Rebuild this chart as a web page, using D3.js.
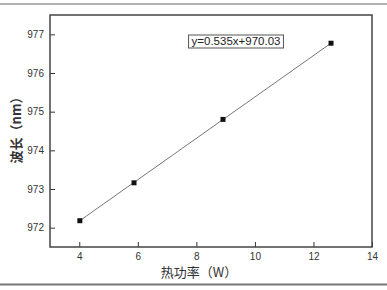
<!DOCTYPE html>
<html lang="zh">
<head>
    <meta charset="UTF-8">
    <title>波长 vs 热功率</title>
    <style>
        body { margin: 0; background: #fff; }
        svg { display: block; }
        .tick text { font-family: Arial, "Liberation Sans", sans-serif; font-size: 10px; fill: #333; }
    </style>
</head>
<body>
    <div id="chart"></div>
    <script src="https://d3js.org/d3.v7.min.js"></script>
    <script>
        const width = 387;
        const height = 290;
        const margin = { top: 15, right: 15, bottom: 43, left: 50 };

        // data
        const power = [4.02, 5.87, 8.91, 12.6];
        const wavelength = [972.18, 973.16, 974.80, 976.77];
        const slope = 0.535;
        const intercept = 970.03;
        const xTicks = [4, 6, 8, 10, 12, 14];
        const yTicks = [972, 973, 974, 975, 976, 977];

        const svg = d3.select("#chart").append("svg")
            .attr("width", width)
            .attr("height", height);

        // photo frame lines
        svg.append("line").attr("x1", 0).attr("x2", width).attr("y1", 4).attr("y2", 4)
            .attr("stroke", "#999").attr("stroke-width", 1.5);
        svg.append("line").attr("x1", 0).attr("x2", width).attr("y1", 284.5).attr("y2", 284.5)
            .attr("stroke", "#777").attr("stroke-width", 2);

        const x = d3.scaleLinear().domain([3, 14]).range([margin.left, width - margin.right]);
        const y = d3.scaleLinear().domain([971.5, 977.5]).range([height - margin.bottom, margin.top]);

        const pw = width - margin.right - margin.left;
        const ph = height - margin.bottom - margin.top;

        // minor ticks
        const xMinor = d3.range(3, 14, 1).filter(v => v % 2 === 1);
        const yMinor = d3.range(971.5, 977.6, 1);

        const gx = svg.append("g").attr("transform", `translate(0,${height - margin.bottom})`);
        gx.call(d3.axisBottom(x).tickValues(xMinor).tickSize(-3).tickFormat(""));
        gx.call(d3.axisBottom(x).tickValues(xTicks).tickSize(-5).tickPadding(6).tickFormat(d3.format("d")));
        gx.selectAll(".domain").remove();

        const gy = svg.append("g").attr("transform", `translate(${margin.left},0)`);
        gy.call(d3.axisLeft(y).tickValues(yMinor).tickSize(-3).tickFormat(""));
        gy.call(d3.axisLeft(y).tickValues(yTicks).tickSize(-5).tickPadding(6).tickFormat(d3.format("d")));
        gy.selectAll(".domain").remove();

        svg.selectAll(".tick line").attr("stroke", "#333");

        // plot frame
        svg.append("rect")
            .attr("x", margin.left).attr("y", margin.top)
            .attr("width", pw).attr("height", ph)
            .attr("fill", "none").attr("stroke", "#444").attr("stroke-width", 1.5);

        // fit line
        const xs = d3.extent(power);
        svg.append("line")
            .attr("x1", x(xs[0])).attr("y1", y(slope * xs[0] + intercept))
            .attr("x2", x(xs[1])).attr("y2", y(slope * xs[1] + intercept))
            .attr("stroke", "#777").attr("stroke-width", 1);

        // markers
        svg.selectAll(".pt")
            .data(power.map((p, i) => [p, wavelength[i]]))
            .enter().append("rect")
            .attr("class", "pt")
            .attr("x", d => x(d[0]) - 2.5)
            .attr("y", d => y(d[1]) - 2.5)
            .attr("width", 5).attr("height", 5)
            .attr("fill", "#111");

        // equation box
        const eq = svg.append("g");
        const eqText = eq.append("text")
            .attr("x", 236).attr("y", 45)
            .attr("text-anchor", "middle")
            .attr("font-family", "Arial, 'Liberation Sans', sans-serif")
            .attr("font-size", 11.5)
            .attr("fill", "#222")
            .text("y=0.535x+970.03");
        const bb = eqText.node().getBBox();
        eq.insert("rect", "text")
            .attr("x", bb.x - 3).attr("y", 35)
            .attr("width", bb.width + 6).attr("height", 13)
            .attr("fill", "#fff").attr("stroke", "#555").attr("stroke-width", 1);

        // axis titles
        svg.append("text")
            .attr("x", 199).attr("y", 277)
            .attr("text-anchor", "middle")
            .attr("font-family", "'Noto Sans CJK SC', sans-serif")
            .attr("font-size", 13)
            .attr("fill", "#333")
            .text("热功率（W）");

        svg.append("text")
            .attr("transform", `translate(21,${127}) rotate(-90)`)
            .attr("text-anchor", "middle")
            .attr("font-family", "'Noto Sans CJK SC', sans-serif")
            .attr("font-size", 13)
            .attr("font-weight", "bold")
            .attr("fill", "#333")
            .text("波长（nm）");
    </script>
</body>
</html>
